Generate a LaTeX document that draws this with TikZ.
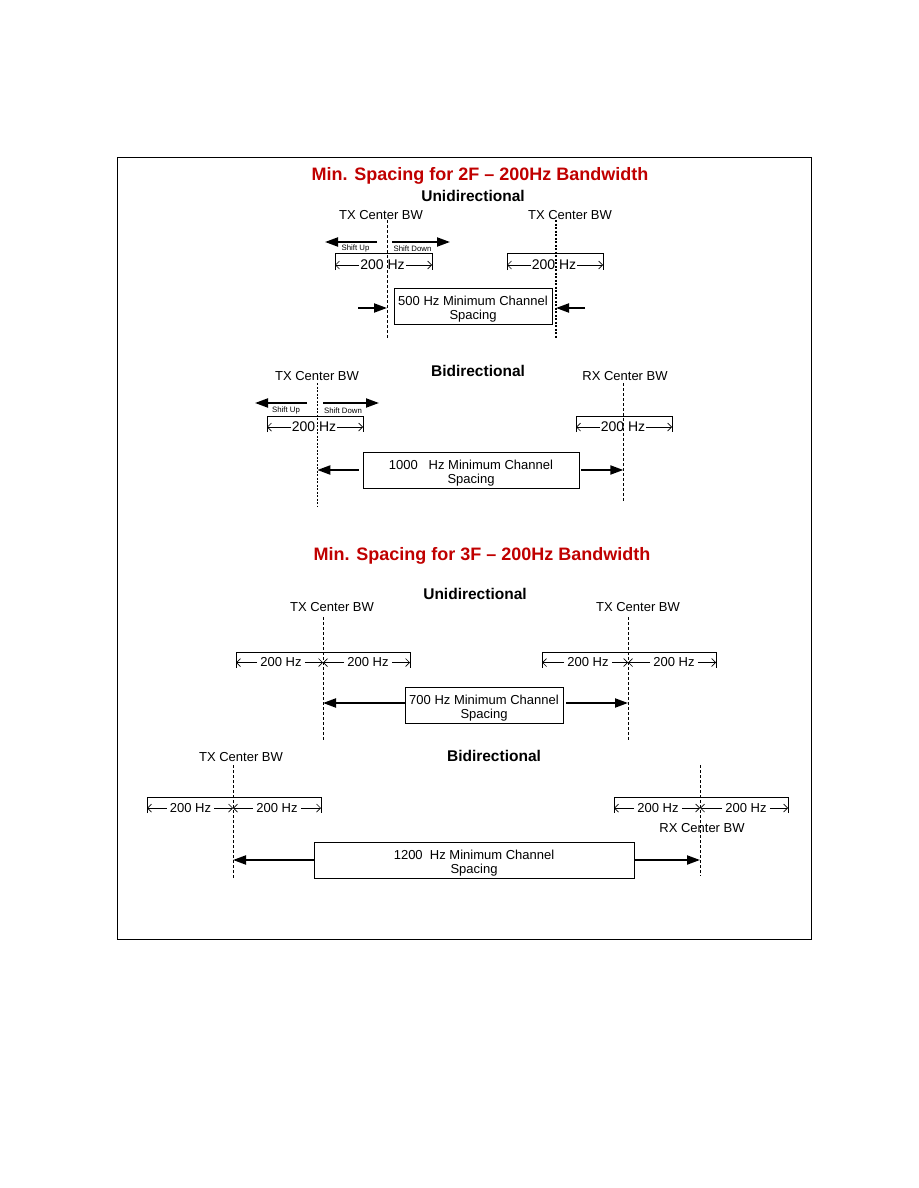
\documentclass[tikz,border=0pt]{standalone}
\usepackage{fontspec}
\setmainfont{Liberation Sans}
\usetikzlibrary{arrows.meta,calc}
\definecolor{titlered}{RGB}{192,0,0}
\tikzset{
  ttl/.style={font=\fontsize{18}{20}\selectfont\bfseries, text=titlered, inner sep=0pt},
  sub/.style={font=\fontsize{15.5}{18}\selectfont\bfseries, inner sep=0pt},
  lbl/.style={font=\fontsize{13}{15}\selectfont, inner sep=0pt},
  hzbig/.style={font=\fontsize{14}{16}\selectfont, inner sep=0pt},
  hz/.style={font=\fontsize{13}{15}\selectfont, inner sep=0pt},
  small/.style={font=\fontsize{7.8}{9}\selectfont, inner sep=0pt},
  boxnode/.style={draw, line width=0.9pt, minimum height=36pt, inner sep=0pt, align=center, font=\fontsize{13}{14.5}\selectfont},
  cline/.style={dash pattern=on 3pt off 2pt, line width=0.8pt},
  clinebold/.style={dash pattern=on 2pt off 1.5pt, line width=1.3pt},
  bigarrow/.style={line width=2pt, -{Triangle[length=13pt,width=9pt]}},
  dimarrow/.style={line width=0.7pt, -{Straight Barb[length=4pt,width=8pt]}},
  brk/.style={line width=0.9pt},
}
\newcommand{\toppad}{\rule{0pt}{16pt}}
\begin{document}
\begin{tikzpicture}[x=1pt,y=-1pt]
\useasboundingbox (0,0) rectangle (918,1188);
\fill[white] (0,0) rectangle (918,1188);
% frame
\draw[line width=1pt] (117,157) rectangle (811,939);

% ================= Section 1: 2F Unidirectional =================
\node[ttl] (t1) at (480,175.5) {Min. Spacing for 2F – 200Hz Bandwidth};
\node[sub] (u1) at (473,196) {Unidirectional};
\node[lbl] (tx1) at (381,215) {TX Center BW};
\node[lbl] (tx2) at (570,215) {TX Center BW};
\coordinate (c1t) at (387,220); \coordinate (c1b) at (387,338);
\coordinate (c2t) at (556,220); \coordinate (c2b) at (556,338);
\draw[cline] (c1t) -- (c1b);
\draw[clinebold] (c2t) -- (c2b);
% shift arrows
\coordinate (s1a) at (377,242); \coordinate (s1b) at (325,242);
\coordinate (s2a) at (392,242); \coordinate (s2b) at (450,242);
\draw[bigarrow] (s1a) -- (s1b);
\draw[bigarrow] (s2a) -- (s2b);
\node[small] (su1) at (355.5,248.5) {Shift Up};
\node[small] (sd1) at (412.5,248.5) {Shift Down};
% brackets
\coordinate (k1l) at (335,253); \coordinate (k1r) at (432,253);
\draw[brk] ($(k1l)+(0,17)$) -- (k1l) -- (k1r) -- ($(k1r)+(0,17)$);
\node[hzbig] (h1) at (382.5,265) {200 Hz};
\draw[dimarrow] ([xshift=-1pt]h1.west) -- (k1l |- h1.west);
\draw[dimarrow] ([xshift=1pt]h1.east) -- (k1r |- h1.east);
\coordinate (k2l) at (507,253); \coordinate (k2r) at (603,253);
\draw[brk] ($(k2l)+(0,17)$) -- (k2l) -- (k2r) -- ($(k2r)+(0,17)$);
\node[hzbig] (h2) at (554,265) {200 Hz};
\draw[dimarrow] ([xshift=-1pt]h2.west) -- (k2l |- h2.west);
\draw[dimarrow] ([xshift=1pt]h2.east) -- (k2r |- h2.east);
% box
\node[boxnode, minimum width=158pt] (b1) at (473,306) {\toppad 500 Hz Minimum Channel\\Spacing};
\coordinate (a1s) at (358,308); \coordinate (a2s) at (585,308);
\draw[bigarrow] (a1s) -- (c1t |- a1s);
\draw[bigarrow] (a2s) -- (c2t |- a2s);

% ================= Section 2: 2F Bidirectional =================
\node[sub] (bd1) at (478,371) {Bidirectional};
\node[lbl] (tx3) at (317,376) {TX Center BW};
\node[lbl] (rx1) at (625,376) {RX Center BW};
\coordinate (c3t) at (317.3,383); \coordinate (c3b) at (317.3,507);
\coordinate (c4t) at (623.3,383); \coordinate (c4b) at (623.3,502);
\draw[clinebold] (c3t) -- (c3b);
\draw[cline] (c4t) -- (c4b);
\coordinate (s3a) at (307,403); \coordinate (s3b) at (255,403);
\coordinate (s4a) at (323,403); \coordinate (s4b) at (379,403);
\draw[bigarrow] (s3a) -- (s3b);
\draw[bigarrow] (s4a) -- (s4b);
\node[small] (su2) at (286,410.5) {Shift Up};
\node[small] (sd2) at (343,410.5) {Shift Down};
\coordinate (k3l) at (267,416); \coordinate (k3r) at (363,416);
\draw[brk] ($(k3l)+(0,16)$) -- (k3l) -- (k3r) -- ($(k3r)+(0,16)$);
\node[hzbig] (h3) at (314,427) {200 Hz};
\draw[dimarrow] ([xshift=-1pt]h3.west) -- (k3l |- h3.west);
\draw[dimarrow] ([xshift=1pt]h3.east) -- (k3r |- h3.east);
\coordinate (k4l) at (576,416); \coordinate (k4r) at (672,416);
\draw[brk] ($(k4l)+(0,16)$) -- (k4l) -- (k4r) -- ($(k4r)+(0,16)$);
\node[hzbig] (h4) at (623,427) {200 Hz};
\draw[dimarrow] ([xshift=-1pt]h4.west) -- (k4l |- h4.west);
\draw[dimarrow] ([xshift=1pt]h4.east) -- (k4r |- h4.east);
\node[boxnode, minimum width=216pt] (b2) at (471,470) {\toppad 1000\ \ \ Hz Minimum Channel\\Spacing};
\draw[bigarrow] ([xshift=-4pt]b2.west) -- (c3t |- b2.west);
\draw[bigarrow] ([xshift=2pt]b2.east) -- (c4t |- b2.east);

% ================= Section 3: 3F Unidirectional =================
\node[ttl] (t2) at (482,555.5) {Min. Spacing for 3F – 200Hz Bandwidth};
\node[sub] (u2) at (475,594) {Unidirectional};
\node[lbl] (tx4) at (332,607) {TX Center BW};
\node[lbl] (tx5) at (638,607) {TX Center BW};
\coordinate (c5t) at (323,617); \coordinate (c5b) at (323,740);
\coordinate (c6t) at (628,617); \coordinate (c6b) at (628,740);
\draw[cline] (c5t) -- (c5b);
\draw[cline] (c6t) -- (c6b);
% left bracket pair
\coordinate (k5l) at (236,652); \coordinate (k5r) at (410,652);
\draw[brk] ($(k5l)+(0,16)$) -- (k5l) -- (k5r) -- ($(k5r)+(0,16)$);
\node[hz] (h5) at (281,662.5) {200 Hz};
\node[hz] (h6) at (368,662.5) {200 Hz};
\draw[dimarrow] ([xshift=-3pt]h5.west) -- (k5l |- h5.west);
\draw[dimarrow] ([xshift=3pt]h5.east) -- (c5t |- h5.east);
\draw[dimarrow] ([xshift=-3pt]h6.west) -- (c5t |- h6.west);
\draw[dimarrow] ([xshift=3pt]h6.east) -- (k5r |- h6.east);
% right bracket pair
\coordinate (k6l) at (542,652); \coordinate (k6r) at (716,652);
\draw[brk] ($(k6l)+(0,16)$) -- (k6l) -- (k6r) -- ($(k6r)+(0,16)$);
\node[hz] (h7) at (588,662.5) {200 Hz};
\node[hz] (h8) at (674,662.5) {200 Hz};
\draw[dimarrow] ([xshift=-3pt]h7.west) -- (k6l |- h7.west);
\draw[dimarrow] ([xshift=3pt]h7.east) -- (c6t |- h7.east);
\draw[dimarrow] ([xshift=-3pt]h8.west) -- (c6t |- h8.west);
\draw[dimarrow] ([xshift=3pt]h8.east) -- (k6r |- h8.east);
\node[boxnode, minimum width=158pt] (b3) at (484,705) {\toppad 700 Hz Minimum Channel\\Spacing};
\coordinate (a3l) at ([yshift=2pt]b3.west);
\coordinate (a3r) at ([xshift=3pt,yshift=2pt]b3.east);
\draw[bigarrow] (a3l) -- (c5t |- a3l);
\draw[bigarrow] (a3r) -- (c6t |- a3r);

% ================= Section 4: 3F Bidirectional =================
\node[sub] (bd2) at (494,756) {Bidirectional};
\node[lbl] (tx6) at (241,757) {TX Center BW};
\coordinate (c7t) at (233,765); \coordinate (c7b) at (233,878);
\coordinate (c8t) at (700,765); \coordinate (c8b) at (700,876);
\draw[cline] (c7t) -- (c7b);
\draw[cline] (c8t) -- (c8b);
\coordinate (k7l) at (147,797); \coordinate (k7r) at (321,797);
\draw[brk] ($(k7l)+(0,16)$) -- (k7l) -- (k7r) -- ($(k7r)+(0,16)$);
\node[hz] (h9) at (190.5,808) {200 Hz};
\node[hz] (h10) at (277,808) {200 Hz};
\draw[dimarrow] ([xshift=-3pt]h9.west) -- (k7l |- h9.west);
\draw[dimarrow] ([xshift=3pt]h9.east) -- (c7t |- h9.east);
\draw[dimarrow] ([xshift=-3pt]h10.west) -- (c7t |- h10.west);
\draw[dimarrow] ([xshift=3pt]h10.east) -- (k7r |- h10.east);
\coordinate (k8l) at (614,797); \coordinate (k8r) at (788,797);
\draw[brk] ($(k8l)+(0,16)$) -- (k8l) -- (k8r) -- ($(k8r)+(0,16)$);
\node[hz] (h11) at (658,808) {200 Hz};
\node[hz] (h12) at (746,808) {200 Hz};
\draw[dimarrow] ([xshift=-3pt]h11.west) -- (k8l |- h11.west);
\draw[dimarrow] ([xshift=3pt]h11.east) -- (c8t |- h11.east);
\draw[dimarrow] ([xshift=-3pt]h12.west) -- (c8t |- h12.west);
\draw[dimarrow] ([xshift=3pt]h12.east) -- (k8r |- h12.east);
\node[lbl] (rx2) at (702,828) {RX Center BW};
\node[boxnode, minimum width=320pt] (b4) at (474,860) {\toppad 1200\ \ Hz Minimum Channel\\Spacing};
\draw[bigarrow] (b4.west) -- (c7t |- b4.west);
\draw[bigarrow] (b4.east) -- (c8t |- b4.east);
\end{tikzpicture}
\end{document}
